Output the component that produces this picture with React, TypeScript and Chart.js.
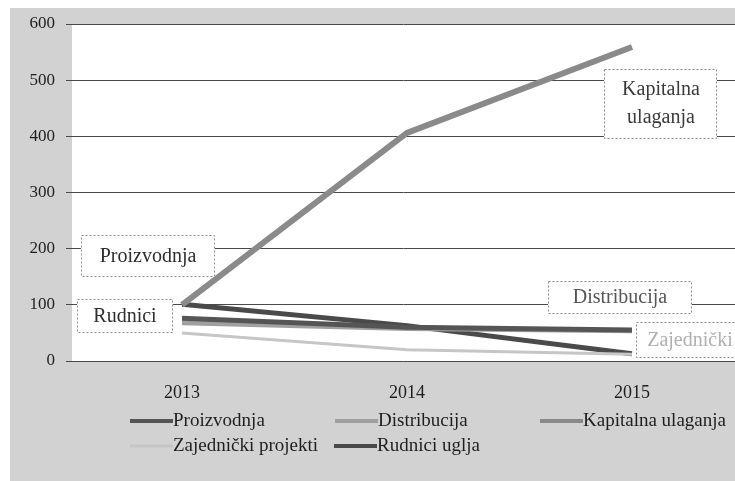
import React, { useEffect, useRef } from "react";
import { Chart, registerables } from "chart.js";

Chart.register(...registerables);

const categories = ["2013", "2014", "2015"];
const proizvodnja = [76, 60, 55];
const distribucija = [68, 58, 54];
const kapitalnaUlaganja = [100, 406, 559];
const zajednickiProjekti = [50, 20, 12];
const rudniciUglja = [101, 63, 13];
const yTicks = [0, 100, 200, 300, 400, 500, 600];

const FONT = "'Liberation Serif', 'Times New Roman', serif";

const seriesDefs = [
  { label: "Proizvodnja", data: proizvodnja, color: "#555555", width: 5 },
  { label: "Distribucija", data: distribucija, color: "#a0a0a0", width: 5 },
  { label: "Kapitalna ulaganja", data: kapitalnaUlaganja, color: "#8a8a8a", width: 6 },
  { label: "Zajednički projekti", data: zajednickiProjekti, color: "#c6c6c6", width: 3 },
  { label: "Rudnici uglja", data: rudniciUglja, color: "#4a4a4a", width: 5 },
];

// data-label boxes: dataset index, point index, text lines, offset of box centre from point
const dataLabels = [
  { ds: 0, idx: 0, lines: ["Proizvodnja"], dx: -34, dy: -62, w: 134, h: 42, color: "#2e2e2e" },
  { ds: 4, idx: 0, lines: ["Rudnici"], dx: -57, dy: 12, w: 96, h: 34, color: "#2e2e2e" },
  { ds: 1, idx: 2, lines: ["Distribucija"], dx: -12, dy: -33, w: 144, h: 33, color: "#555555" },
  { ds: 3, idx: 2, lines: ["Zajednički"], dx: 58, dy: -14, w: 108, h: 36, color: "#b0b0b0" },
  { ds: 2, idx: 2, lines: ["Kapitalna", "ulaganja"], dx: 29, dy: 57, w: 113, h: 70, color: "#3a3a3a" },
];

// legend grid: [column x, row y] per dataset
const legendSlots = [
  [130, 421],
  [335, 421],
  [540, 421],
  [130, 446],
  [334, 446],
];

const bgPlugin = {
  id: "bgPanel",
  beforeDraw(chart: any) {
    const { ctx, width, height, chartArea } = chart;
    ctx.save();
    ctx.fillStyle = "#ffffff";
    ctx.fillRect(0, 0, width, height);
    ctx.fillStyle = "#d2d2d2";
    ctx.fillRect(10, 8, width - 10, height - 8);
    ctx.fillStyle = "#ffffff";
    ctx.fillRect(chartArea.left, chartArea.top, chartArea.right - chartArea.left, chartArea.bottom - chartArea.top);
    ctx.restore();
  },
};

const labelPlugin = {
  id: "boxLabels",
  afterDatasetsDraw(chart: any) {
    const { ctx } = chart;
    ctx.save();
    dataLabels.forEach((l) => {
      const meta = chart.getDatasetMeta(l.ds);
      const pt = meta.data[l.idx];
      if (!pt) return;
      const cx = pt.x + l.dx;
      const cy = pt.y + l.dy;
      const x0 = Math.round(cx - l.w / 2);
      const y0 = Math.round(cy - l.h / 2);
      ctx.fillStyle = "#ffffff";
      ctx.fillRect(x0, y0, l.w, l.h);
      ctx.setLineDash([2, 2]);
      ctx.strokeStyle = "#8a8a8a";
      ctx.lineWidth = 1;
      ctx.strokeRect(x0 + 0.5, y0 + 0.5, l.w - 1, l.h - 1);
      ctx.setLineDash([]);
      ctx.fillStyle = l.color;
      ctx.font = `20px ${FONT}`;
      ctx.textAlign = "center";
      ctx.textBaseline = "middle";
      const lh = 28;
      l.lines.forEach((t, i) => {
        ctx.fillText(t, cx, cy + (i - (l.lines.length - 1) / 2) * lh);
      });
    });
    ctx.restore();
  },
};

const legendPlugin = {
  id: "gridLegend",
  afterDraw(chart: any) {
    const { ctx } = chart;
    ctx.save();
    chart.data.datasets.forEach((ds: any, i: number) => {
      const [x, y] = legendSlots[i];
      ctx.strokeStyle = ds.borderColor;
      ctx.lineWidth = Math.min(ds.borderWidth, 4);
      ctx.beginPath();
      ctx.moveTo(x, y);
      ctx.lineTo(x + 43, y);
      ctx.stroke();
      ctx.fillStyle = "#1e1e1e";
      ctx.font = `19px ${FONT}`;
      ctx.textAlign = "left";
      ctx.textBaseline = "middle";
      ctx.fillText(ds.label, x + 43, y);
    });
    ctx.restore();
  },
};

export default function App() {
  const ref = useRef<HTMLCanvasElement>(null);
  useEffect(() => {
    document.body.style.margin = "0";
    const years = categories.map((c) => Number(c));
    const chart = new Chart(ref.current!, {
      type: "line",
      data: {
        datasets: seriesDefs.map((s) => ({
          label: s.label,
          data: s.data.map((v, i) => ({ x: years[i], y: v })),
          borderColor: s.color,
          backgroundColor: s.color,
          borderWidth: s.width,
          pointRadius: 0,
          tension: 0,
          fill: false,
        })),
      },
      options: {
        animation: false,
        responsive: false,
        layout: { padding: { left: 8, top: 24, right: 0, bottom: 0 } },
        plugins: { legend: { display: false }, tooltip: { enabled: false } },
        scales: {
          x: {
            type: "linear",
            min: 2012.511,
            max: 2015.458,
            afterBuildTicks: (scale: any) => {
              scale.ticks = years.map((v) => ({ value: v }));
            },
            afterFit: (scale: any) => {
              scale.height = 120;
            },
            grid: { display: false },
            border: { display: false },
            ticks: {
              padding: 13,
              color: "#1e1e1e",
              font: { family: FONT, size: 18 },
              callback: (v: any) => String(v),
              maxRotation: 0,
            },
          },
          y: {
            min: 0,
            max: 600,
            afterBuildTicks: (scale: any) => {
              scale.ticks = yTicks.map((v) => ({ value: v }));
            },
            afterFit: (scale: any) => {
              scale.width = 64;
            },
            border: { display: false },
            grid: { color: "#4a4a4a", lineWidth: 1, tickLength: 6 },
            ticks: {
              padding: 11,
              color: "#1e1e1e",
              font: { family: FONT, size: 17 },
            },
          },
        },
      },
      plugins: [bgPlugin, labelPlugin, legendPlugin],
    });
    return () => chart.destroy();
  }, []);
  return (
    <div style={{ width: 735, height: 481 }}>
      <canvas ref={ref} width={735} height={481} style={{ display: "block" }} />
    </div>
  );
}
